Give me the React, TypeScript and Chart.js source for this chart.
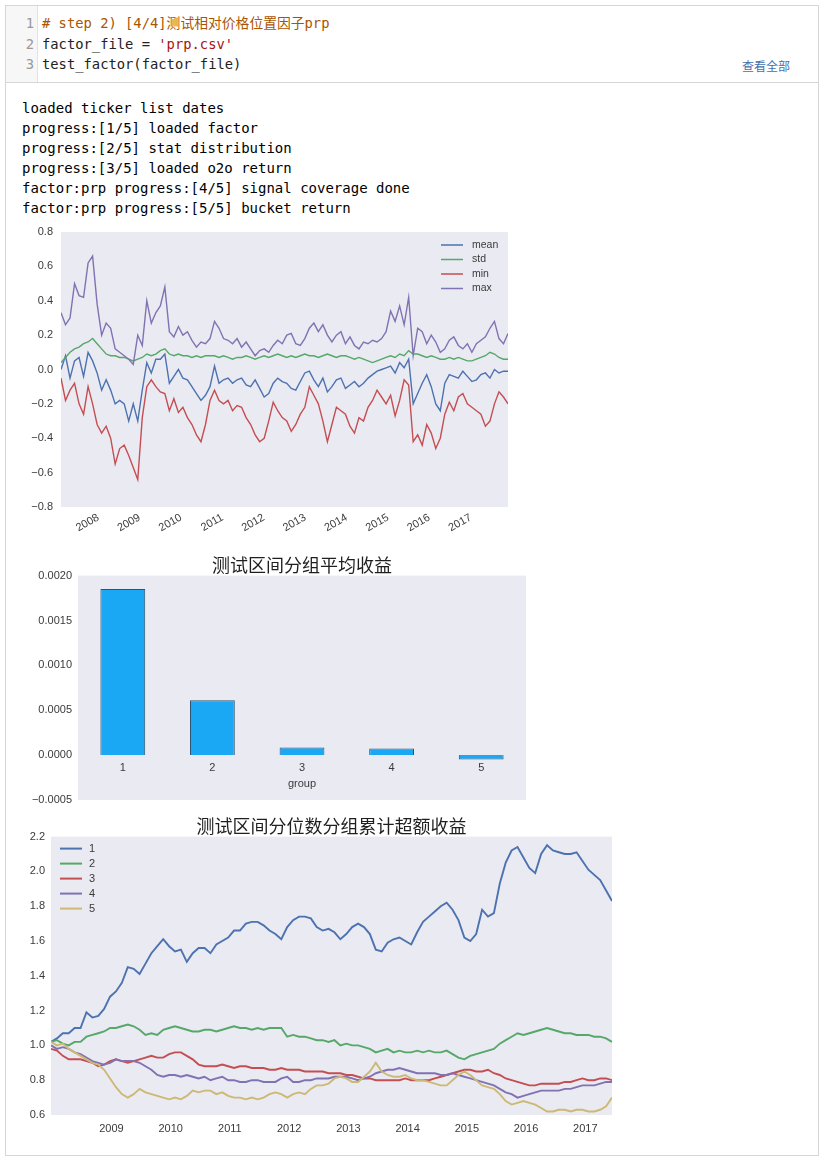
import React, { useEffect, useRef } from "react";
import { Chart, registerables } from "chart.js";

Chart.register(...registerables);

const MONO = "'DejaVu Sans Mono', 'Noto Sans CJK SC', monospace";
const SANS = "'Liberation Sans', Arial, sans-serif";
const CJK = "'Noto Sans CJK SC', sans-serif";
const TICK_COLOR = "#3a3a3a";
const PLOT_BG = "#EAEAF2";

// ---------- notebook text ----------
const CODE_LINES: [string, string][][] = [
  [["# step 2) [4/4]测试相对价格位置因子prp", "#aa5500"]],
  [["factor_file = ", "#222"], ["'prp.csv'", "#aa1111"]],
  [["test_factor(factor_file)", "#222"]],
];
const OUTPUT_LINES = [
  "loaded ticker list dates",
  "progress:[1/5] loaded factor",
  "progress:[2/5] stat distribution",
  "progress:[3/5] loaded o2o return",
  "factor:prp progress:[4/5] signal coverage done",
  "factor:prp progress:[5/5] bucket return",
];

// ---------- chart 1: factor distribution stats ----------
const STAT_LABELS = ["mean", "std", "min", "max"];
const STAT_COLORS = ["#4C72B0", "#55A868", "#C44E52", "#8172B2"];
const STAT_START = 2007.1;
const STAT_END = 2017.9;
const STAT_YEAR_TICKS = [2008, 2009, 2010, 2011, 2012, 2013, 2014, 2015, 2016, 2017];
const STAT_Y_TICKS = [-0.8, -0.6, -0.4, -0.2, 0, 0.2, 0.4, 0.6, 0.8];
const MEAN = [
  0.0, 0.08, -0.05, 0.05, 0.07, -0.04, 0.1, 0.05, -0.02, -0.12,
  -0.06, -0.12, -0.2, -0.18, -0.2, -0.3, -0.2, -0.3, -0.12, 0.04,
  -0.02, 0.06, 0.06, 0.09, -0.08, -0.04, 0.0, -0.05, -0.06, -0.1,
  -0.14, -0.18, -0.15, -0.1, 0.02, -0.08, -0.06, -0.05, -0.08, -0.06,
  -0.05, -0.09, -0.1, -0.06, -0.11, -0.16, -0.14, -0.08, -0.05, -0.07,
  -0.08, -0.11, -0.12, -0.07, -0.02, -0.01, -0.06, -0.1, -0.05, -0.13,
  -0.1, -0.06, -0.05, -0.11, -0.09, -0.07, -0.1, -0.08, -0.05, -0.03,
  -0.01, 0.0, 0.01, 0.02, -0.02, 0.04, 0.01, 0.06, -0.2, -0.14,
  -0.08, -0.03, -0.1, -0.2, -0.24, -0.08, -0.03, -0.04, -0.05, -0.01,
  -0.04, -0.07, -0.06, -0.03, -0.02, -0.05, 0.0, -0.02, -0.01, -0.01,
];
const STD = [
  0.04, 0.07, 0.1, 0.12, 0.13, 0.15, 0.16, 0.18, 0.15, 0.12,
  0.09, 0.08, 0.08, 0.07, 0.07, 0.06, 0.05, 0.06, 0.07, 0.09,
  0.08, 0.09, 0.11, 0.12, 0.09, 0.08, 0.09, 0.08, 0.08, 0.07,
  0.08, 0.07, 0.08, 0.08, 0.08, 0.07, 0.08, 0.07, 0.06, 0.07,
  0.07, 0.08, 0.07, 0.06, 0.07, 0.08, 0.07, 0.08, 0.09, 0.08,
  0.07, 0.08, 0.07, 0.08, 0.09, 0.08, 0.08, 0.07, 0.08, 0.09,
  0.08, 0.07, 0.08, 0.08, 0.07, 0.06, 0.07, 0.06, 0.05, 0.04,
  0.05, 0.06, 0.07, 0.08, 0.07, 0.09, 0.08, 0.11, 0.09, 0.09,
  0.08, 0.07, 0.08, 0.07, 0.06, 0.06, 0.07, 0.06, 0.07, 0.06,
  0.05, 0.05, 0.06, 0.07, 0.08, 0.1, 0.09, 0.07, 0.06, 0.06,
];
const MIN = [
  -0.05, -0.18, -0.12, -0.08, -0.2, -0.26, -0.1, -0.2, -0.32, -0.37,
  -0.33, -0.4, -0.55, -0.46, -0.44, -0.5, -0.57, -0.64, -0.28, -0.1,
  -0.06, -0.1, -0.13, -0.14, -0.24, -0.17, -0.25, -0.22, -0.28, -0.32,
  -0.38, -0.42, -0.32, -0.18, -0.12, -0.18, -0.2, -0.18, -0.24, -0.21,
  -0.22, -0.28, -0.32, -0.38, -0.42, -0.4, -0.3, -0.19, -0.24, -0.28,
  -0.3, -0.36, -0.32, -0.26, -0.22, -0.1, -0.15, -0.2, -0.3, -0.42,
  -0.32, -0.22, -0.24, -0.26, -0.33, -0.37, -0.28, -0.3, -0.22, -0.18,
  -0.12, -0.16, -0.2, -0.15, -0.27, -0.18, -0.06, -0.09, -0.42, -0.38,
  -0.44, -0.32, -0.37, -0.46, -0.4, -0.26, -0.19, -0.24, -0.16, -0.14,
  -0.2, -0.22, -0.24, -0.26, -0.33, -0.3, -0.2, -0.13, -0.16, -0.2,
];
const MAX = [
  0.33, 0.26, 0.3, 0.5, 0.43, 0.42, 0.62, 0.66, 0.38, 0.2,
  0.27, 0.24, 0.12, 0.1, 0.08, 0.06, 0.03, 0.2, 0.14, 0.4,
  0.27, 0.33, 0.37, 0.48, 0.22, 0.19, 0.25, 0.2, 0.22, 0.17,
  0.13, 0.16, 0.15, 0.18, 0.28, 0.24, 0.18, 0.17, 0.15, 0.18,
  0.13, 0.16, 0.12, 0.08, 0.11, 0.12, 0.1, 0.14, 0.17, 0.15,
  0.2, 0.21, 0.15, 0.14, 0.18, 0.24, 0.27, 0.22, 0.26, 0.2,
  0.16, 0.2, 0.22, 0.15, 0.19, 0.14, 0.12, 0.16, 0.15, 0.17,
  0.16, 0.18, 0.22, 0.34, 0.28, 0.37, 0.26, 0.42, 0.08, 0.24,
  0.22, 0.15, 0.2, 0.16, 0.1, 0.12, 0.17, 0.19, 0.14, 0.12,
  0.15, 0.1, 0.15, 0.17, 0.19, 0.24, 0.28, 0.18, 0.15, 0.21,
];

// ---------- chart 2: mean return by group ----------
const GROUP_TITLE = "测试区间分组平均收益";
const GROUPS = ["1", "2", "3", "4", "5"];
const GROUP_MEAN_RETURN = [0.001852, 0.000611, 0.000085, 0.000074, -0.000048];
const BAR_Y_TICKS = [-0.0005, 0, 0.0005, 0.001, 0.0015, 0.002];

// ---------- chart 3: cumulative excess return by quantile ----------
const CUM_TITLE = "测试区间分位数分组累计超额收益";
const CUM_LABELS = ["1", "2", "3", "4", "5"];
const CUM_COLORS = ["#4C72B0", "#55A868", "#C44E52", "#8172B2", "#CCB974"];
const CUM_START = 2007.98;
const CUM_END = 2017.45;
const CUM_YEAR_TICKS = [2009, 2010, 2011, 2012, 2013, 2014, 2015, 2016, 2017];
const CUM_Y_TICKS = [0.6, 0.8, 1.0, 1.2, 1.4, 1.6, 1.8, 2.0, 2.2];
const Q1 = [
  1.02, 1.04, 1.07, 1.07, 1.1, 1.1, 1.19, 1.16, 1.17, 1.21,
  1.28, 1.31, 1.36, 1.45, 1.44, 1.41, 1.47, 1.53, 1.57, 1.61,
  1.57, 1.54, 1.55, 1.48, 1.53, 1.56, 1.56, 1.53, 1.58, 1.6,
  1.62, 1.66, 1.66, 1.7, 1.71, 1.71, 1.69, 1.66, 1.64, 1.61,
  1.68, 1.72, 1.74, 1.74, 1.73, 1.68, 1.66, 1.67, 1.65, 1.61,
  1.64, 1.68, 1.7, 1.68, 1.64, 1.55, 1.54, 1.59, 1.61, 1.62,
  1.6, 1.58, 1.65, 1.71, 1.74, 1.77, 1.8, 1.82, 1.78, 1.72,
  1.62, 1.6, 1.64, 1.78, 1.74, 1.76, 1.93, 2.05, 2.12, 2.14,
  2.08, 2.02, 1.99, 2.1, 2.15, 2.12, 2.11, 2.1, 2.1, 2.11,
  2.06, 2.01, 1.98, 1.95, 1.89, 1.83,
];
const Q2 = [
  1.02, 1.03, 1.01, 1.0, 1.02, 1.02, 1.05, 1.06, 1.07, 1.08,
  1.1, 1.1, 1.11, 1.12, 1.11, 1.09, 1.06, 1.07, 1.06, 1.09,
  1.1, 1.11, 1.1, 1.09, 1.08, 1.08, 1.09, 1.09, 1.08, 1.09,
  1.1, 1.11, 1.1, 1.1, 1.09, 1.1, 1.09, 1.1, 1.1, 1.1,
  1.05, 1.06, 1.05, 1.05, 1.04, 1.03, 1.03, 1.02, 1.03, 1.0,
  1.01, 1.0, 1.0, 0.99, 0.98, 0.96, 0.97, 0.98, 0.96, 0.97,
  0.96, 0.96, 0.97, 0.96, 0.97, 0.96, 0.96, 0.97, 0.95, 0.93,
  0.92, 0.94, 0.95, 0.96, 0.97, 0.98, 1.01, 1.03, 1.05, 1.07,
  1.06, 1.07, 1.08, 1.09, 1.1, 1.09, 1.08, 1.07, 1.07, 1.06,
  1.06, 1.06, 1.05, 1.05, 1.04, 1.02,
];
const Q3 = [
  0.98, 0.97, 0.94, 0.92, 0.92, 0.92, 0.91, 0.9, 0.88, 0.89,
  0.91, 0.92, 0.91, 0.9, 0.91, 0.92, 0.93, 0.94, 0.93, 0.93,
  0.95, 0.96, 0.96, 0.94, 0.92, 0.89, 0.88, 0.88, 0.88, 0.89,
  0.88, 0.87, 0.88, 0.88, 0.87, 0.87, 0.87, 0.86, 0.86, 0.87,
  0.86, 0.86, 0.86, 0.85, 0.85, 0.85, 0.85, 0.84, 0.84, 0.84,
  0.83, 0.83, 0.82, 0.81, 0.81, 0.8, 0.8, 0.8, 0.8, 0.8,
  0.81, 0.8, 0.8, 0.8, 0.8, 0.81, 0.82, 0.83, 0.84, 0.85,
  0.86, 0.86, 0.85, 0.85, 0.86, 0.84, 0.83, 0.81, 0.8, 0.79,
  0.78, 0.77, 0.77, 0.78, 0.78, 0.78, 0.78, 0.79, 0.79, 0.8,
  0.81, 0.8, 0.8, 0.81, 0.81, 0.8,
];
const Q4 = [
  1.0, 0.98, 0.99, 0.98, 0.96, 0.95, 0.93, 0.91, 0.9, 0.89,
  0.9, 0.92, 0.91, 0.91, 0.91, 0.9, 0.88, 0.86, 0.83, 0.82,
  0.83, 0.83, 0.82, 0.83, 0.82, 0.81, 0.82, 0.8, 0.81, 0.82,
  0.8, 0.8, 0.79, 0.79, 0.8, 0.8, 0.79, 0.79, 0.79, 0.81,
  0.82, 0.79, 0.79, 0.8, 0.8, 0.81, 0.81, 0.81, 0.82, 0.82,
  0.82, 0.81, 0.8, 0.81, 0.82, 0.84, 0.85, 0.86, 0.86, 0.87,
  0.86, 0.85, 0.84, 0.84, 0.84, 0.84, 0.83, 0.83, 0.84, 0.83,
  0.82, 0.81, 0.8, 0.79, 0.78, 0.77, 0.75, 0.73, 0.72, 0.7,
  0.71, 0.72, 0.73, 0.74, 0.74, 0.74, 0.74, 0.75, 0.75, 0.76,
  0.77, 0.77, 0.77, 0.78, 0.79, 0.79,
];
const Q5 = [
  1.02, 1.0, 1.01, 0.98, 0.96, 0.94, 0.92, 0.9, 0.89, 0.86,
  0.81, 0.76, 0.72, 0.7, 0.72, 0.75, 0.73, 0.72, 0.71, 0.7,
  0.69, 0.7, 0.69, 0.71, 0.74, 0.73, 0.74, 0.74, 0.72, 0.73,
  0.71, 0.7, 0.7, 0.69, 0.7, 0.69, 0.7, 0.72, 0.73, 0.72,
  0.7, 0.72, 0.73, 0.72, 0.75, 0.77, 0.77, 0.78, 0.81, 0.82,
  0.81, 0.79, 0.79, 0.82, 0.85, 0.9, 0.85, 0.83, 0.82, 0.82,
  0.83, 0.81, 0.8, 0.8, 0.79, 0.78, 0.77, 0.77, 0.8, 0.83,
  0.85, 0.83, 0.8, 0.77, 0.76, 0.75, 0.72, 0.68, 0.66, 0.67,
  0.68, 0.67, 0.66, 0.64, 0.62, 0.62, 0.63, 0.63, 0.62, 0.63,
  0.63, 0.62, 0.62, 0.63, 0.65, 0.7,
];

// ---------- helpers ----------
const fmt = (v: number, d: number) => (v < 0 ? "\u2212" : "") + Math.abs(v).toFixed(d);

const evenDates = (n: number, start: number, end: number) =>
  Array.from({ length: n }, (_, i) => start + (i * (end - start)) / (n - 1));

const plotBackground = (color: string) => ({
  id: "plotBackground",
  beforeDraw(chart: any) {
    const { ctx, chartArea: a } = chart;
    ctx.save();
    ctx.fillStyle = color;
    ctx.fillRect(a.left, a.top, a.right - a.left, a.bottom - a.top);
    ctx.restore();
  },
});

type LegendParams = {
  anchor: "left" | "right";
  dx: number;
  dy: number;
  rowH: number;
  len: number;
  gap: number;
  lineWidth: number;
  size: number;
};
const lineLegend = (p: LegendParams) => ({
  id: "lineLegend",
  afterDraw(chart: any) {
    const { ctx, chartArea: a } = chart;
    const x0 = p.anchor === "right" ? a.right - p.dx : a.left + p.dx;
    ctx.save();
    chart.data.datasets.forEach((ds: any, i: number) => {
      const y = a.top + p.dy + i * p.rowH;
      ctx.strokeStyle = ds.borderColor;
      ctx.lineWidth = p.lineWidth;
      ctx.beginPath();
      ctx.moveTo(x0, y);
      ctx.lineTo(x0 + p.len, y);
      ctx.stroke();
      ctx.fillStyle = TICK_COLOR;
      ctx.font = `${p.size}px ${SANS}`;
      ctx.textBaseline = "middle";
      ctx.textAlign = "left";
      ctx.fillText(ds.label, x0 + p.len + p.gap, y);
    });
    ctx.restore();
  },
});

const tickFont = { family: SANS, size: 11 };
const noGrid = { display: false, drawTicks: false };

// y axis with fixed width and no extra layout padding from its end labels
const fixedY = (width: number) => (s: any) => {
  s.width = width;
  s.paddingTop = 0;
  s.paddingBottom = 0;
};

function statsConfig(): any {
  const series = [MEAN, STD, MIN, MAX];
  const xs = evenDates(MEAN.length, STAT_START, STAT_END);
  return {
    type: "line",
    data: {
      datasets: series.map((vals, i) => ({
        label: STAT_LABELS[i],
        data: vals.map((y, j) => ({ x: xs[j], y })),
        borderColor: STAT_COLORS[i],
        borderWidth: 1.4,
        pointRadius: 0,
        tension: 0,
        order: series.length - i,
      })),
    },
    options: {
      responsive: false,
      animation: false,
      events: [],
      layout: { padding: { top: 10, right: 7, bottom: 0, left: 0 } },
      plugins: { legend: { display: false }, tooltip: { enabled: false }, title: { display: false } },
      scales: {
        x: {
          type: "linear",
          min: STAT_START,
          max: STAT_END,
          grid: noGrid,
          border: { display: false },
          afterBuildTicks: (s: any) => {
            s.ticks = STAT_YEAR_TICKS.map((v) => ({ value: v }));
          },
          afterFit: (s: any) => {
            s.height = 30;
          },
          ticks: {
            autoSkip: false,
            minRotation: 30,
            maxRotation: 30,
            padding: 4,
            color: TICK_COLOR,
            font: tickFont,
            callback: (v: any) => String(v),
          },
        },
        y: {
          type: "linear",
          min: -0.8,
          max: 0.8,
          grid: noGrid,
          border: { display: false },
          afterBuildTicks: (s: any) => {
            s.ticks = STAT_Y_TICKS.map((v) => ({ value: v }));
          },
          afterFit: fixedY(41),
          ticks: { padding: 8, color: TICK_COLOR, font: tickFont, callback: (v: any) => fmt(Number(v), 1) },
        },
      },
    },
    plugins: [
      plotBackground(PLOT_BG),
      lineLegend({ anchor: "right", dx: 67, dy: 13, rowH: 14.5, len: 22, gap: 9, lineWidth: 1.5, size: 10.5 }),
    ],
  };
}

function barConfig(): any {
  return {
    type: "bar",
    data: {
      labels: GROUPS,
      datasets: [
        {
          data: GROUP_MEAN_RETURN,
          backgroundColor: "#1AA8F5",
          borderColor: "#2E5373",
          borderWidth: 1,
          barPercentage: 0.5,
          categoryPercentage: 1,
        },
      ],
    },
    options: {
      responsive: false,
      animation: false,
      events: [],
      layout: { padding: { top: 0, right: 9, bottom: 7, left: 0 } },
      plugins: {
        legend: { display: false },
        tooltip: { enabled: false },
        title: {
          display: true,
          text: GROUP_TITLE,
          fullSize: false,
          color: "#1f1f1f",
          font: { family: CJK, size: 18, weight: "normal" },
          padding: { top: 4, bottom: 0 },
        },
      },
      scales: {
        x: {
          type: "category",
          position: { y: 0 },
          offset: true,
          grid: noGrid,
          border: { display: false },
          ticks: { padding: 6, color: TICK_COLOR, font: tickFont },
          title: {
            display: true,
            text: "group",
            color: TICK_COLOR,
            font: { family: SANS, size: 11 },
            padding: { top: -3, bottom: 0 },
          },
        },
        y: {
          type: "linear",
          min: -0.0005,
          max: 0.002,
          grid: noGrid,
          border: { display: false },
          afterBuildTicks: (s: any) => {
            s.ticks = BAR_Y_TICKS.map((v) => ({ value: v }));
          },
          afterFit: fixedY(58),
          ticks: { padding: 6, color: TICK_COLOR, font: tickFont, callback: (v: any) => fmt(Number(v), 4) },
        },
      },
    },
    plugins: [plotBackground(PLOT_BG)],
  };
}

function cumConfig(): any {
  const series = [Q1, Q2, Q3, Q4, Q5];
  const xs = evenDates(Q1.length, CUM_START, CUM_END);
  return {
    type: "line",
    data: {
      datasets: series.map((vals, i) => ({
        label: CUM_LABELS[i],
        data: vals.map((y, j) => ({ x: xs[j], y })),
        borderColor: CUM_COLORS[i],
        borderWidth: 1.9,
        pointRadius: 0,
        tension: 0,
        order: series.length - i,
      })),
    },
    options: {
      responsive: false,
      animation: false,
      events: [],
      layout: { padding: { top: 0, right: 10, bottom: 0, left: 0 } },
      plugins: {
        legend: { display: false },
        tooltip: { enabled: false },
        title: {
          display: true,
          text: CUM_TITLE,
          fullSize: false,
          color: "#1f1f1f",
          font: { family: CJK, size: 18, weight: "normal" },
          padding: { top: 4, bottom: 0 },
        },
      },
      scales: {
        x: {
          type: "linear",
          min: CUM_START,
          max: CUM_END,
          grid: noGrid,
          border: { display: false },
          afterBuildTicks: (s: any) => {
            s.ticks = CUM_YEAR_TICKS.map((v) => ({ value: v }));
          },
          afterFit: (s: any) => {
            s.height = 30;
          },
          ticks: {
            autoSkip: false,
            maxRotation: 0,
            minRotation: 0,
            padding: 7,
            color: TICK_COLOR,
            font: tickFont,
            callback: (v: any) => String(v),
          },
        },
        y: {
          type: "linear",
          min: 0.6,
          max: 2.2,
          grid: noGrid,
          border: { display: false },
          afterBuildTicks: (s: any) => {
            s.ticks = CUM_Y_TICKS.map((v) => ({ value: v }));
          },
          afterFit: fixedY(41),
          ticks: { padding: 6, color: TICK_COLOR, font: tickFont, callback: (v: any) => fmt(Number(v), 1) },
        },
      },
    },
    plugins: [
      plotBackground(PLOT_BG),
      lineLegend({ anchor: "left", dx: 9, dy: 12, rowH: 15, len: 22, gap: 7, lineWidth: 2, size: 11 }),
    ],
  };
}

function ChartCanvas(props: { make: () => any; left: number; top: number; width: number; height: number }) {
  const ref = useRef<HTMLCanvasElement>(null);
  useEffect(() => {
    const chart = new Chart(ref.current as HTMLCanvasElement, props.make());
    return () => chart.destroy();
  }, []);
  const { left, top, width, height } = props;
  return (
    <canvas
      ref={ref}
      width={width}
      height={height}
      style={{ position: "absolute", left, top, width, height, display: "block" }}
    />
  );
}

export default function App() {
  return (
    <div
      style={{
        position: "absolute",
        left: 0,
        top: 0,
        width: 824,
        height: 1161,
        background: "#fff",
        overflow: "hidden",
      }}
    >
      {/* outer frame */}
      <div
        style={{
          position: "absolute",
          left: 5,
          top: 5,
          width: 814,
          height: 1151,
          border: "1px solid #d6d6d6",
          boxSizing: "border-box",
        }}
      />
      {/* code gutter */}
      <div
        style={{
          position: "absolute",
          left: 6,
          top: 6,
          width: 31,
          height: 76,
          background: "#f7f7f7",
          borderRight: "1px solid #e2e2e2",
        }}
      />
      <div style={{ position: "absolute", left: 5, top: 82, width: 814, height: 1, background: "#d6d6d6" }} />
      {CODE_LINES.map((segs, i) => (
        <React.Fragment key={i}>
          <div
            style={{
              position: "absolute",
              left: 6,
              width: 28,
              top: 13 + i * 20.5,
              textAlign: "right",
              font: `13.8px/20px ${MONO}`,
              color: "#999",
            }}
          >
            {i + 1}
          </div>
          <div
            style={{
              position: "absolute",
              left: 42,
              top: 13 + i * 20.5,
              font: `13.8px/20px ${MONO}`,
              whiteSpace: "pre",
            }}
          >
            {segs.map(([t, c], k) => (
              <span key={k} style={{ color: c }}>
                {t}
              </span>
            ))}
          </div>
        </React.Fragment>
      ))}
      <div
        style={{
          position: "absolute",
          left: 742,
          top: 57,
          font: `12px/18px ${CJK}`,
          color: "#4470b0",
          whiteSpace: "nowrap",
        }}
      >
        查看全部
      </div>
      {OUTPUT_LINES.map((t, i) => (
        <div
          key={i}
          style={{
            position: "absolute",
            left: 22,
            top: 98 + i * 20,
            font: `14px/20px ${MONO}`,
            color: "#000",
            whiteSpace: "pre",
          }}
        >
          {t}
        </div>
      ))}
      <ChartCanvas make={statsConfig} left={20} top={222} width={495} height={315} />
      <ChartCanvas make={barConfig} left={20} top={550} width={515} height={257} />
      <ChartCanvas make={cumConfig} left={10} top={811} width={612} height={334} />
    </div>
  );
}
